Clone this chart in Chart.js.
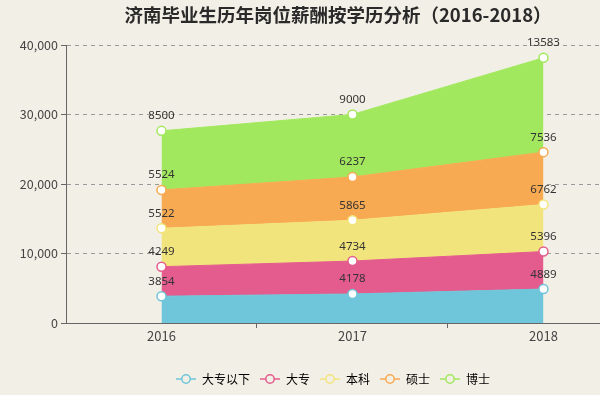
<!DOCTYPE html>
<html>
<head>
<meta charset="utf-8">
<script src="https://cdn.jsdelivr.net/npm/chart.js@4/dist/chart.umd.min.js"></script>
<style>
  html, body { margin: 0; padding: 0; background: #f2f0e6; overflow: hidden; }
  #wrap { width: 600px; height: 395px; position: relative; }
  canvas { display: block; }
</style>
</head>
<body>
<div id="wrap"><canvas id="salaryChart"></canvas></div>
<script>
const chartTitle = '济南毕业生历年岗位薪酬按学历分析（2016-2018）';
const years = [2016, 2017, 2018];
const seriesNames = ['大专以下', '大专', '本科', '硕士', '博士'];
const belowJunior = [3854, 4178, 4889];
const junior = [4249, 4734, 5396];
const bachelor = [5522, 5865, 6762];
const master = [5524, 6237, 7536];
const doctor = [8500, 9000, 13583];
const yTicks = [0, 10000, 20000, 30000, 40000];

const seriesValues = [belowJunior, junior, bachelor, master, doctor];
const colors = ['#6fc5d9', '#e45c8d', '#f2e47c', '#f8aa52', '#a2e85e'];

// legend icon: short line with hollow circle
function makeIcon(color) {
    const c = document.createElement('canvas');
    c.width = 20;
    c.height = 12;
    const g = c.getContext('2d');
    g.strokeStyle = color;
    g.lineWidth = 1.5;
    g.beginPath();
    g.moveTo(0, 6);
    g.lineTo(20, 6);
    g.stroke();
    g.beginPath();
    g.arc(10, 6, 4.2, 0, Math.PI * 2);
    g.fillStyle = '#f2f0e6';
    g.fill();
    g.stroke();
    return c;
}

// title sits a little right of the plot centre, like the original
const titleText = {
    id: 'titleText',
    afterDraw(chart) {
        const ctx = chart.ctx;
        const area = chart.chartArea;
        ctx.save();
        ctx.font = 'bold 18.5px "Noto Sans CJK SC", sans-serif';
        ctx.fillStyle = '#2a2a2a';
        ctx.textAlign = 'center';
        ctx.textBaseline = 'middle';
        ctx.fillText(chartTitle, (area.left + area.right) / 2 + 5, 15);
        ctx.restore();
    },
};

const valueLabels = {
    id: 'valueLabels',
    afterDatasetsDraw(chart) {
        const ctx = chart.ctx;
        ctx.save();
        ctx.font = '11.5px "Noto Sans", sans-serif';
        ctx.fillStyle = '#333';
        ctx.textAlign = 'center';
        ctx.textBaseline = 'bottom';
        chart.data.datasets.forEach((ds, i) => {
            chart.getDatasetMeta(i).data.forEach((pt, j) => {
                ctx.fillText(seriesValues[i][j], pt.x, pt.y - 9);
            });
        });
        ctx.restore();
    },
};

const datasets = seriesNames.map((name, i) => ({
    label: name,
    data: years.map((y, j) => ({ x: y, y: seriesValues[i][j] })),
    backgroundColor: colors[i],
    borderColor: colors[i],
    borderWidth: 1,
    fill: i === 0 ? 'origin' : '-1',
    pointRadius: 4.5,
    pointBorderWidth: 1.5,
    pointBackgroundColor: '#ffffff',
    pointBorderColor: colors[i],
    tension: 0,
}));

const xTickValues = [];
years.forEach((y, i) => {
    xTickValues.push(y);
    if (i < years.length - 1) xTickValues.push(y + 0.5);
});

Chart.defaults.font.family = '"Noto Sans CJK SC", "Noto Sans", sans-serif';
Chart.defaults.color = '#444';

new Chart(document.getElementById('salaryChart'), {
    type: 'line',
    data: { datasets },
    plugins: [valueLabels, titleText],
    options: {
        responsive: true,
        maintainAspectRatio: false,
        animation: false,
        layout: { padding: { top: 45, left: 0, right: 0, bottom: 0 }, autoPadding: false },
        plugins: {
            title: { display: false },
            legend: {
                position: 'bottom',
                fullSize: false,
                labels: {
                    usePointStyle: true,
                    pointStyleWidth: 20,
                    padding: 10,
                    color: '#555',
                    font: { size: 12 },
                    generateLabels: (chart) => chart.data.datasets.map((ds, i) => ({
                        text: ds.label,
                        pointStyle: makeIcon(colors[i]),
                        fillStyle: colors[i],
                        strokeStyle: colors[i],
                        lineWidth: 0,
                        hidden: false,
                        datasetIndex: i,
                    })),
                },
            },
            tooltip: { enabled: false },
        },
        scales: {
            x: {
                type: 'linear',
                min: 2015.5,
                max: 2018.296,
                afterBuildTicks: (scale) => {
                    scale.ticks = xTickValues.map((v) => ({ value: v }));
                },
                afterFit: (scale) => {
                    scale.height = 40;
                    scale.paddingLeft = 0;
                    scale.paddingRight = 0;
                },
                ticks: {
                    autoSkip: false,
                    maxRotation: 0,
                    color: '#444',
                    font: { size: 13 },
                    padding: 0,
                    callback: (v) => (Number.isInteger(v) ? String(v) : ''),
                },
                grid: {
                    drawOnChartArea: false,
                    tickLength: 5,
                    tickColor: (c) => (Number.isInteger(c.tick.value) ? 'rgba(0,0,0,0)' : '#666'),
                },
                border: { color: '#666', width: 1 },
            },
            y: {
                stacked: true,
                min: 0,
                max: 40000,
                afterBuildTicks: (scale) => {
                    scale.ticks = yTicks.map((v) => ({ value: v }));
                },
                afterFit: (scale) => { scale.width = 66; },
                ticks: {
                    color: '#444',
                    font: { size: 12.5 },
                    padding: 3,
                    callback: (v) => v.toLocaleString('en-US'),
                },
                grid: {
                    color: '#9a9a9a',
                    tickLength: 5,
                    tickColor: '#666',
                    tickBorderDash: [],
                },
                border: { color: '#666', width: 1, dash: [4, 4] },
            },
        },
    },
});
</script>
</body>
</html>
